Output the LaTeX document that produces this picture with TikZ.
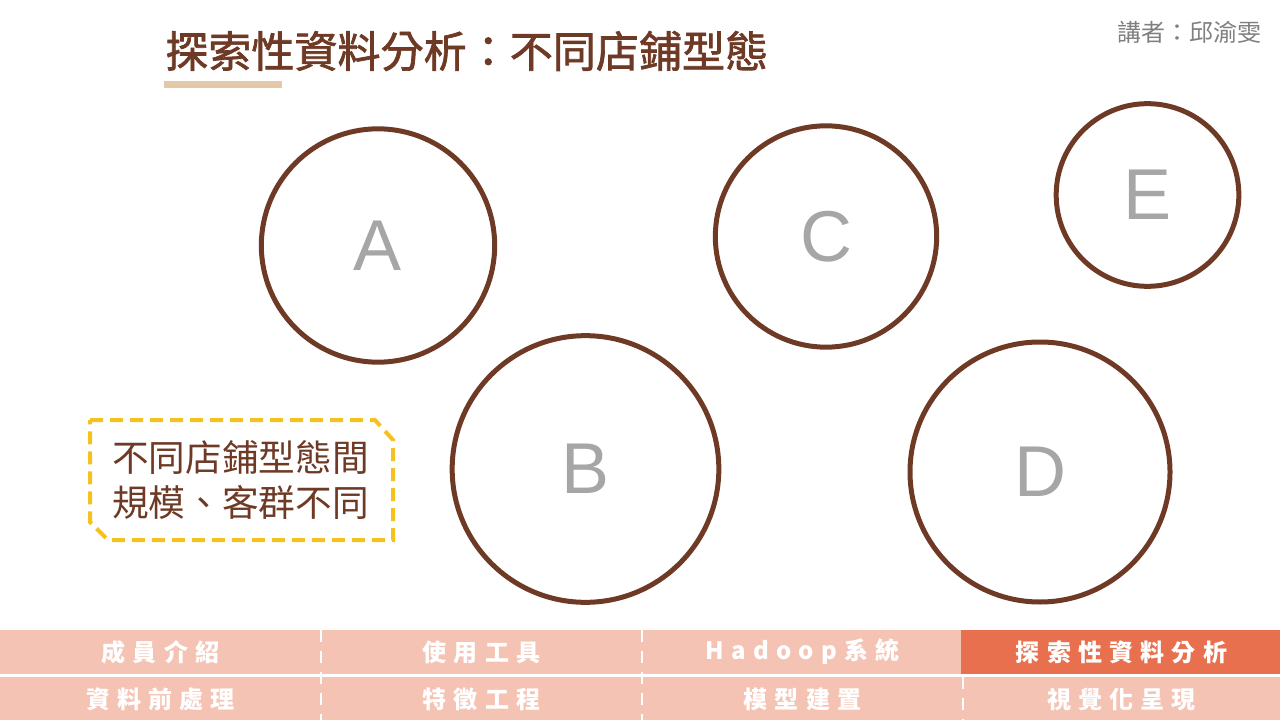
\documentclass[tikz,border=0pt]{standalone}
\usepackage{fontspec}
\setmainfont{Liberation Sans}
\newfontfamily\cjkfont{Noto Sans CJK TC}
\newfontfamily\titlefont{Noto Sans CJK TC}[FakeBold=1.6]
\newfontfamily\navfont{Noto Sans CJK TC}[LetterSpace=30]
\definecolor{brownline}{HTML}{6E3A25}
\definecolor{lettergray}{HTML}{A6A6A6}
\definecolor{speakergray}{HTML}{7F7F7F}
\definecolor{tanbar}{HTML}{E5C8A6}
\definecolor{noteyellow}{HTML}{F5C11E}
\definecolor{navpink}{HTML}{F4C3B4}
\definecolor{navactive}{HTML}{E8704E}

\begin{document}
\begin{tikzpicture}[x=0.75pt,y=-0.75pt,
	ring/.style={draw=brownline,line width=3.75pt,shape=circle,inner sep=0pt,text=lettergray,font=\fontsize{54}{60}\selectfont},
	navcell/.style={fill=navpink,text=white,minimum width=240.75pt,minimum height=33pt,inner sep=0pt,outer sep=0pt,font=\navfont\bfseries\fontsize{18}{20}\selectfont},
	navsep/.style={draw=white,line width=2pt,dash pattern=on 9pt off 6.75pt},
	notebox/.style={draw=noteyellow,line width=3pt,dash pattern=on 9.75pt off 5.25pt}]
	\useasboundingbox (0,0) rectangle (1280,720);
	\draw (165,51) node (title) [anchor=west,inner sep=0pt,text=brownline,font=\titlefont\fontsize{32.3}{38}\selectfont] {探索性資料分析：不同店鋪型態};
	\fill[tanbar] (164,81) rectangle (282,88);
	\draw (1262,32) node (speaker) [anchor=east,inner sep=0pt,text=speakergray,font=\cjkfont\fontsize{18}{20}\selectfont] {講者：邱渝雯};
	\draw (378,245.5) node (a) [ring,minimum size=175pt] {A};
	\draw (585.5,469) node (b) [ring,minimum size=200pt] {B};
	\draw (826,236.5) node (c) [ring,minimum size=166pt] {C};
	\draw (1040,472) node (d) [ring,minimum size=195pt] {D};
	\draw (1147.5,195) node (e) [ring,minimum size=137pt] {E};
	\draw[notebox] (90,420) -- (375,420) -- (393,440) -- (393,540) -- (108,540) -- (90,522) -- cycle;
	\draw (112,480) node (note) [anchor=west,inner sep=0pt,align=left,text=brownline,font=\cjkfont\fontsize{27.5}{33.75}\selectfont] {不同店鋪型態間\\規模、客群不同};
	\draw (160.5,652) node (nav1) [navcell] {成員介紹};
	\draw (481.5,652) node (nav2) [navcell] {使用工具};
	\draw (802.5,652) node (nav3) [navcell] {Hadoop系統};
	\draw (1121.5,652) node (nav4) [navcell,fill=navactive] {探索性資料分析};
	\draw (160.5,699) node (nav5) [navcell] {資料前處理};
	\draw (481.5,699) node (nav6) [navcell] {特徵工程};
	\draw (802.5,699) node (nav7) [navcell] {模型建置};
	\draw (1121.5,699) node (nav8) [navcell] {視覺化呈現};
	\path[navsep] (nav1.north east) -- (nav5.south east);
	\path[navsep] (nav2.north east) -- (nav6.south east);
	\path[navsep] (nav7.north east) -- (nav7.south east);
\end{tikzpicture}
\end{document}
